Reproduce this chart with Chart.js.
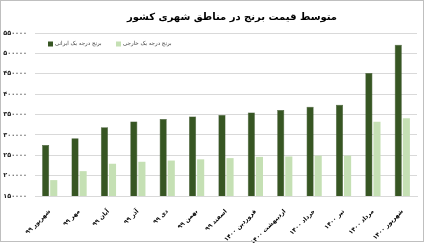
<!DOCTYPE html>
<html>
<head>
<meta charset="utf-8">
<script src="https://cdn.jsdelivr.net/npm/chart.js@4/dist/chart.umd.min.js"></script>
<style>
  body { margin: 0; background: #fff; }
  #wrap { position: relative; width: 425px; height: 243px; }
  #title {
    position: absolute; left: 29px; top: 10px; width: 406px;
    text-align: center; direction: rtl;
    font: bold 10px 'DejaVu Sans', sans-serif; line-height: 14px; color: #000;
  }
</style>
</head>
<body>
<div id="wrap">
  <canvas id="riceChart" width="425" height="243"></canvas>
  <div id="title"></div>
</div>
<script>
(function() {

  'use strict';

  var chartTitle = 'متوسط قیمت برنج در مناطق شهری کشور';

  var months = [
    'شهریور ۹۹', 'مهر ۹۹', 'آبان ۹۹', 'آذر ۹۹', 'دی ۹۹', 'بهمن ۹۹', 'اسفند ۹۹',
    'فروردین ۱۴۰۰', 'اردیبهشت ۱۴۰۰', 'خرداد ۱۴۰۰', 'تیر ۱۴۰۰', 'مرداد ۱۴۰۰', 'شهریور ۱۴۰۰'
  ];

  var seriesNames = ['برنج درجه یک ایرانی', 'برنج درجه یک خارجی'];

  var iranianRice = [275000, 292000, 319000, 333000, 339000, 345000, 349000, 355000, 361000, 369000, 374000, 452000, 521000];
  var foreignRice = [189000, 211000, 229000, 234000, 237000, 240000, 243000, 246000, 247000, 249000, 249000, 332000, 341000];

  var yTicks = [150000, 200000, 250000, 300000, 350000, 400000, 450000, 500000, 550000];

  var faDigits = '۰۱۲۳۴۵۶۷۸۹';
  function toFa(n) {
    return String(n).replace(/\d/g, function(d) { return faDigits[d]; });
  }

  var fontFamily = "'DejaVu Sans', sans-serif";

  document.getElementById('title').textContent = chartTitle;

  // legend drawn by hand: the excel one sits inside the plot area
  var frameAndLegend = {
    id: 'frameAndLegend',
    beforeDraw: function(chart) {
      var ctx = chart.ctx;
      ctx.save();
      ctx.fillStyle = '#fff';
      ctx.fillRect(0, 0, chart.width, chart.height);
      ctx.restore();
    },
    afterDraw: function(chart) {
      var ctx = chart.ctx;
      ctx.save();
      ctx.strokeStyle = '#bfbfbf';
      ctx.lineWidth = 1;
      ctx.strokeRect(0.5, 0.5, chart.width - 2, chart.height - 2);

      ctx.font = '5.5px ' + fontFamily;
      ctx.textBaseline = 'middle';
      ctx.textAlign = 'left';
      var slots = [48, 116];
      chart.data.datasets.forEach(function(ds, i) {
        var x = slots[i], y = 44;
        ctx.fillStyle = ds.backgroundColor;
        ctx.fillRect(x, y - 2.5, 5, 5);
        ctx.fillStyle = '#404040';
        ctx.fillText(ds.label, x + 7, y);
      });
      ctx.restore();
    }
  };

  var ctx = document.getElementById('riceChart').getContext('2d');
  new Chart(ctx, {
    type: 'bar',
    data: {
      labels: months,
      datasets: [{
        label: seriesNames[0],
        data: iranianRice,
        backgroundColor: '#375623',
        borderColor: '#2c451c',
        borderWidth: 0.5
      }, {
        label: seriesNames[1],
        data: foreignRice,
        backgroundColor: '#c5e0b4',
        borderWidth: 0
      }]
    },
    options: {
      responsive: false,
      animation: false,
      layout: { padding: { left: 0, right: 8, top: 33, bottom: 0 } },
      datasets: {
        bar: { categoryPercentage: 0.55, barPercentage: 0.88 }
      },
      plugins: {
        legend: { display: false },
        tooltip: { enabled: false },
        title: { display: false }
      },
      scales: {
        x: {
          grid: { display: false },
          border: { display: true, color: '#d9d9d9' },
          ticks: {
            color: '#000',
            font: { family: fontFamily, size: 6, weight: 'bold' },
            minRotation: 45,
            maxRotation: 45,
            padding: 4
          },
          afterFit: function(scale) { scale.height = 47; }
        },
        y: {
          min: 150000,
          max: 550000,
          afterBuildTicks: function(scale) {
            scale.ticks = yTicks.map(function(v) { return { value: v }; });
          },
          grid: { color: '#d9d9d9', drawTicks: false },
          border: { display: false },
          ticks: {
            color: '#262626',
            padding: 8,
            font: { family: fontFamily, size: 6.5, weight: 'bold' },
            callback: function(v) { return toFa(v); }
          },
          afterFit: function(scale) { scale.width = 35; }
        }
      }
    },
    plugins: [frameAndLegend]
  });

})();
</script>
</body>
</html>
